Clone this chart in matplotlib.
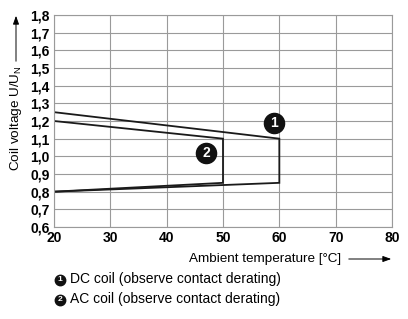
import matplotlib
matplotlib.use("Agg")
import matplotlib.pyplot as plt
import matplotlib.transforms as mtrans
from matplotlib.patches import FancyArrowPatch
import numpy as np

plt.rcParams['font.family'] = ['Liberation Sans', 'DejaVu Sans']

# DC coil (1) and AC coil (2) operating range outlines
dc_temp = [20, 60, 60, 20]
dc_volt = [1.25, 1.10, 0.85, 0.80]
ac_temp = [20, 50, 50, 20]
ac_volt = [1.20, 1.10, 0.85, 0.80]

x_ticks = [20, 30, 40, 50, 60, 70, 80]
y_ticks = [0.6, 0.7, 0.8, 0.9, 1.0, 1.1, 1.2, 1.3, 1.4, 1.5, 1.6, 1.7, 1.8]
legend = ['DC coil (observe contact derating)', 'AC coil (observe contact derating)']

W, H = 408, 319
fig = plt.figure(figsize=(W / 100, H / 100), dpi=100)
ax = fig.add_axes([54 / W, 1 - 227 / H, 338 / W, 212 / H])

grid_c = '#9a9a9a'
ax.plot(dc_temp, dc_volt, color='#1a1a1a', lw=1.3, solid_joinstyle='miter')
ax.plot(ac_temp, ac_volt, color='#1a1a1a', lw=1.3, solid_joinstyle='miter')

ax.set_xlim(20, 80)
ax.set_ylim(0.6, 1.8)
ax.set_xticks(x_ticks)
ax.set_yticks(y_ticks)
ax.set_xticklabels([str(t) for t in x_ticks], fontweight='bold', fontsize=10)
ax.set_yticklabels([('%.1f' % t).replace('.', ',') for t in y_ticks],
                   fontweight='bold', fontsize=10)
lab06 = ax.get_yticklabels()[0]
lab06.set_transform(lab06.get_transform() +
                    mtrans.ScaledTranslation(0, 6 / 100, fig.dpi_scale_trans))
ax.tick_params(length=0, pad=3)
ax.tick_params(axis='x', pad=3)
ax.grid(True, color=grid_c, lw=0.8)
for s in ax.spines.values():
    s.set_color(grid_c)
    s.set_linewidth(0.8)

# numbered markers
for num, (tx, vy) in zip(['1', '2'], [(59.1, 1.189), (47.0, 1.019)]):
    ax.plot([tx], [vy], 'o', ms=14.5, color='#111111', zorder=5)
    ax.text(tx, vy, num, color='white', fontsize=10, fontweight='bold',
            ha='center', va='center', zorder=6)

# axis labels with arrows
fig.text(16 / W, 1 - 118 / H, 'Coil voltage U/U$_\\mathregular{N}$', rotation=90,
         ha='center', va='center', fontsize=9.7)
fig.add_artist(FancyArrowPatch(
    (16 / W, 1 - 64 / H), (16 / W, 1 - 13 / H), transform=fig.transFigure,
    arrowstyle='-|>,head_length=5,head_width=1.8', color='black', lw=0.7))
fig.text(341 / W, 1 - 259 / H, 'Ambient temperature [°C]', ha='right', va='center',
         fontsize=9.7)
fig.add_artist(FancyArrowPatch(
    (346 / W, 1 - 259 / H), (394 / W, 1 - 259 / H), transform=fig.transFigure,
    arrowstyle='-|>,head_length=5,head_width=1.8', color='black', lw=0.7))

# legend
for i, lab in enumerate(legend):
    y = 1 - (279.5 + 20 * i) / H
    fig.add_artist(plt.Line2D([60 / W], [y], marker='o', ms=7.5, color='#111111',
                              transform=fig.transFigure))
    fig.text(60 / W, y, str(i + 1), color='white', fontsize=6, fontweight='bold',
             ha='center', va='center')
    fig.text(70 / W, y, lab, ha='left', va='center', fontsize=10)

fig.savefig('out.png', dpi=100)
